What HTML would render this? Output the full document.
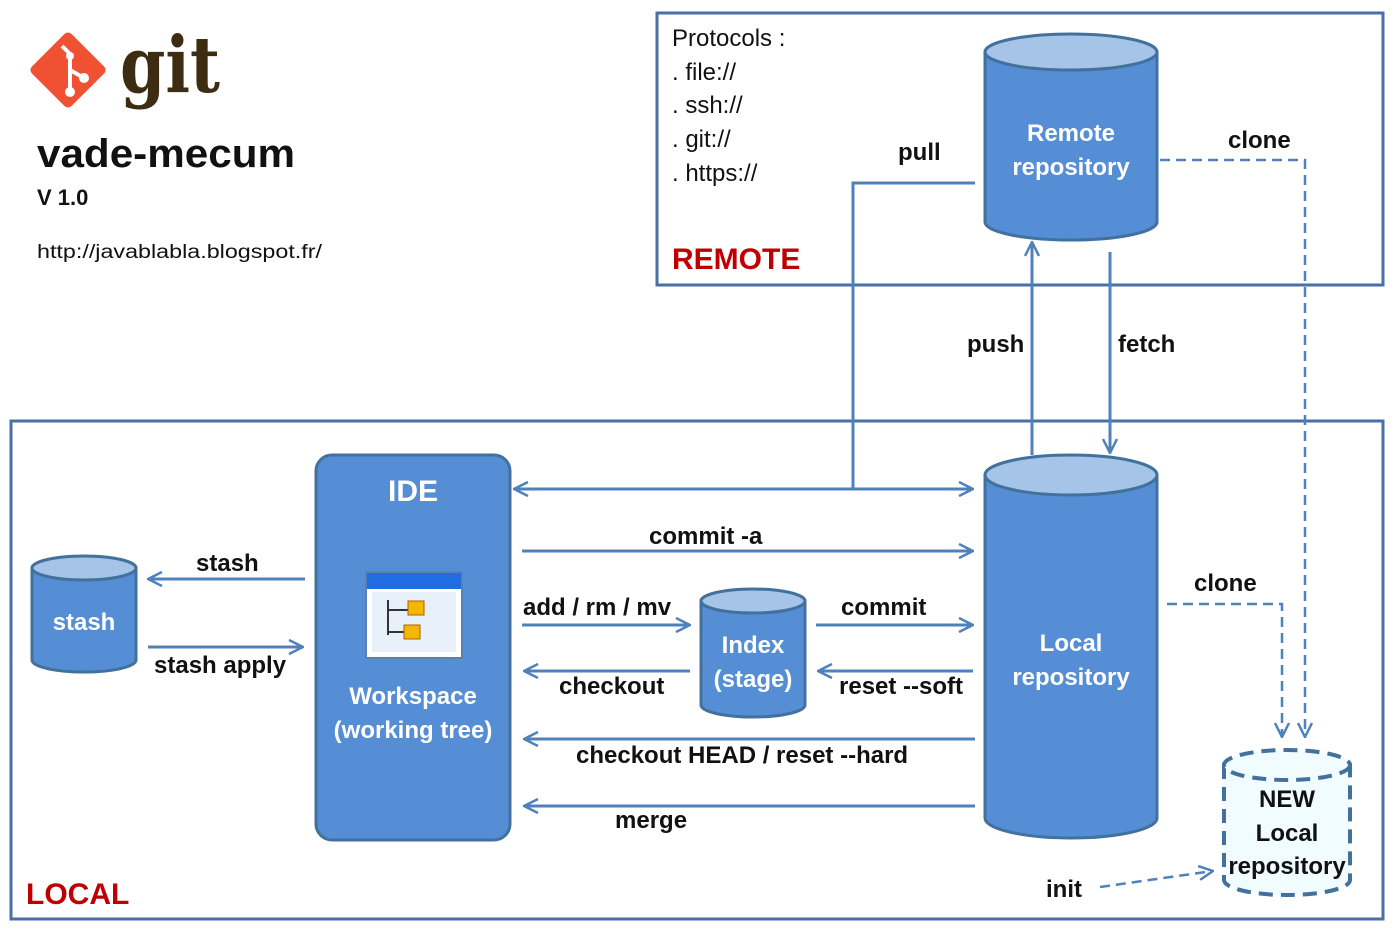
<!DOCTYPE html>
<html><head><meta charset="utf-8"><style>
body{margin:0;background:#fff}
svg text{font-family:"Liberation Sans",sans-serif}
</style></head><body>
<svg width="1395" height="935" viewBox="0 0 1395 935" xmlns="http://www.w3.org/2000/svg">
<defs>
<marker id="b" viewBox="0 0 16 16" refX="15" refY="8" markerWidth="16" markerHeight="16" markerUnits="userSpaceOnUse" orient="auto-start-reverse">
<path d="M1,1 L15,8 L1,15" fill="none" stroke="#4F81BD" stroke-width="2.5"/></marker>
</defs>
<rect x="657" y="13" width="726" height="272" fill="none" stroke="#4A6FA5" stroke-width="3"/>
<rect x="11" y="421" width="1372" height="498" fill="none" stroke="#4A6FA5" stroke-width="3"/>
<!-- logo -->
<rect x="40" y="42" width="56" height="56" fill="#F05133" transform="rotate(45 68 70)" rx="5"/>
<path d="M62,46 L70,54 L70,92 M70,70 L84,78" stroke="#fff" stroke-width="4" fill="none"/>
<circle cx="70" cy="92" r="5" fill="#fff"/><circle cx="84" cy="78" r="5" fill="#fff"/><circle cx="70" cy="56" r="4" fill="#fff"/>
<text x="120" y="92" font-size="78" font-weight="bold" fill="#3D2B12" style="font-family:'DejaVu Serif','Liberation Serif',serif" textLength="100" lengthAdjust="spacingAndGlyphs">git</text>
<text x="37" y="167" font-size="40" font-weight="bold" fill="#111" textLength="258" lengthAdjust="spacingAndGlyphs">vade-mecum</text>
<text x="37" y="205" font-size="22" font-weight="bold" fill="#111">V 1.0</text>
<text x="37" y="258" font-size="19" fill="#111" textLength="285" lengthAdjust="spacingAndGlyphs">http://javablabla.blogspot.fr/</text>
<g font-size="24" fill="#111">
<text x="672" y="46">Protocols :</text>
<text x="672" y="80">.  file://</text>
<text x="672" y="113">.  ssh://</text>
<text x="672" y="147">.  git://</text>
<text x="672" y="181">.  https://</text>
</g>
<text x="672" y="269" font-size="30" font-weight="bold" fill="#C00000">REMOTE</text>
<text x="26" y="904" font-size="30" font-weight="bold" fill="#C00000">LOCAL</text>
<g stroke="#41719C" stroke-width="3">
<path d="M985,52 L985,222 A86,18 0 0 0 1157,222 L1157,52 Z" fill="#558ED5"/>
<ellipse cx="1071" cy="52" rx="86" ry="18" fill="#A6C3E8"/>
<path d="M985,475 L985,818 A86,20 0 0 0 1157,818 L1157,475 Z" fill="#558ED5"/>
<ellipse cx="1071" cy="475" rx="86" ry="20" fill="#A6C3E8"/>
<path d="M701,601 L701,705 A52,12 0 0 0 805,705 L805,601 Z" fill="#558ED5"/>
<ellipse cx="753" cy="601" rx="52" ry="12" fill="#A6C3E8"/>
<path d="M32,568 L32,660 A52,12 0 0 0 136,660 L136,568 Z" fill="#558ED5"/>
<ellipse cx="84" cy="568" rx="52" ry="12" fill="#A6C3E8"/>
<rect x="316" y="455" width="194" height="385" rx="16" fill="#558ED5"/>
</g>
<g stroke="#41719C" stroke-width="4" stroke-dasharray="14,8" fill="#F0FCFF">
<path d="M1224,765 L1224,880 A63,15 0 0 0 1350,880 L1350,765 Z"/>
<ellipse cx="1287" cy="765" rx="63" ry="15"/>
</g>
<rect x="366" y="572" width="96" height="86" fill="#fff" stroke="#5A7FB0" stroke-width="2"/>
<rect x="367" y="573" width="94" height="16" fill="#1F6DE0"/>
<rect x="372" y="592" width="84" height="60" fill="#E8F0FA"/>
<path d="M388,600 L388,635 M388,610 L408,610 M388,632 L405,632" stroke="#333" stroke-width="2" fill="none"/>
<rect x="408" y="601" width="16" height="14" fill="#F5B800" stroke="#B06000"/>
<rect x="404" y="625" width="16" height="14" fill="#F5B800" stroke="#B06000"/>
<g font-size="24" font-weight="bold" fill="#fff" text-anchor="middle">
<text x="1071" y="141">Remote</text><text x="1071" y="175">repository</text>
<text x="1071" y="651">Local</text><text x="1071" y="685">repository</text>
<text x="753" y="653">Index</text><text x="753" y="687">(stage)</text>
<text x="84" y="630">stash</text>
<text x="413" y="501" font-size="30">IDE</text>
<text x="413" y="704">Workspace</text><text x="413" y="738">(working tree)</text>
</g>
<g font-size="24" font-weight="bold" fill="#111" text-anchor="middle">
<text x="1287" y="807">NEW</text><text x="1287" y="841">Local</text><text x="1287" y="874">repository</text>
</g>
<g stroke="#4F81BD" stroke-width="3" fill="none">
<path d="M975,183 L853,183 L853,489"/>
<path d="M514,489 L973,489" marker-end="url(#b)" marker-start="url(#b)"/>
<path d="M522,551 L973,551" marker-end="url(#b)"/>
<path d="M522,625 L690,625" marker-end="url(#b)"/>
<path d="M690,671 L524,671" marker-end="url(#b)"/>
<path d="M816,625 L973,625" marker-end="url(#b)"/>
<path d="M973,671 L818,671" marker-end="url(#b)"/>
<path d="M975,739 L524,739" marker-end="url(#b)"/>
<path d="M975,806 L524,806" marker-end="url(#b)"/>
<path d="M305,579 L148,579" marker-end="url(#b)"/>
<path d="M148,647 L303,647" marker-end="url(#b)"/>
<path d="M1032,455 L1032,242" marker-end="url(#b)"/>
<path d="M1110,252 L1110,453" marker-end="url(#b)"/>
</g>
<g stroke="#4F81BD" stroke-width="2.5" fill="none" stroke-dasharray="10,6">
<path d="M1160,160 L1305,160 L1305,737" marker-end="url(#b)"/>
<path d="M1167,604 L1282,604 L1282,737" marker-end="url(#b)"/>
<path d="M1100,887 L1213,871" marker-end="url(#b)"/>
</g>
<g font-size="24" font-weight="bold" fill="#111">
<text x="898" y="160">pull</text>
<text x="1228" y="148">clone</text>
<text x="967" y="352">push</text>
<text x="1118" y="352">fetch</text>
<text x="649" y="544">commit  -a</text>
<text x="196" y="571">stash</text>
<text x="154" y="673">stash apply</text>
<text x="523" y="615">add / rm / mv</text>
<text x="841" y="615">commit</text>
<text x="559" y="694">checkout</text>
<text x="839" y="694">reset  --soft</text>
<text x="576" y="763">checkout  HEAD  /  reset --hard</text>
<text x="615" y="828">merge</text>
<text x="1194" y="591">clone</text>
<text x="1046" y="897">init</text>
</g>
</svg>
</body></html>
